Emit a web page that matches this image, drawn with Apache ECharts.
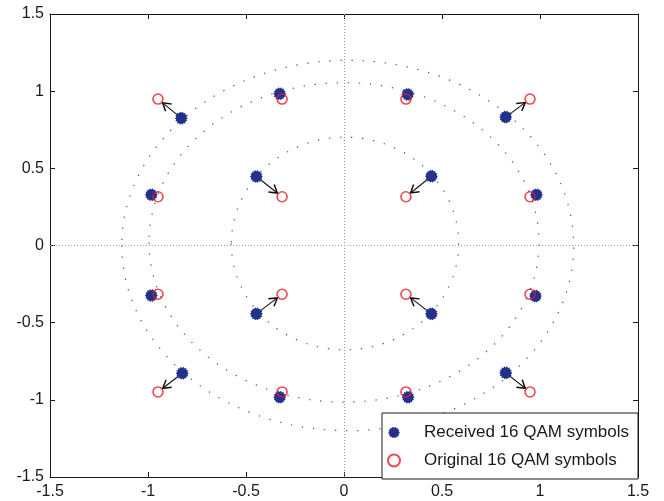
<!DOCTYPE html>
<html>
<head>
<meta charset="utf-8">
<script src="https://cdn.jsdelivr.net/npm/echarts@6/dist/echarts.min.js"></script>
<style>
html,body{margin:0;padding:0;background:#fff;}
#chart{width:664px;height:501px;}
</style>
</head>
<body>
<div id="chart"></div>
<script>
// ---- data ----
const seriesNames = ['Received 16 QAM symbols', 'Original 16 QAM symbols'];
const originalX = [-0.949, -0.316, 0.316, 0.949,  -0.949, -0.316, 0.316, 0.949,  -0.949, -0.316, 0.316, 0.949,  -0.949, -0.316, 0.316, 0.949];
const originalY = [0.949, 0.949, 0.949, 0.949,  0.316, 0.316, 0.316, 0.316,  -0.316, -0.316, -0.316, -0.316,  -0.949, -0.949, -0.949, -0.949];
const receivedX = [-0.830, -0.328, 0.325, 0.825,  -0.983, -0.447, 0.446, 0.982,  -0.983, -0.447, 0.446, 0.977,  -0.825, -0.328, 0.327, 0.825];
const receivedY = [0.825, 0.983, 0.979, 0.832,  0.329, 0.447, 0.449, 0.329,  -0.324, -0.443, -0.443, -0.328,  -0.828, -0.983, -0.983, -0.825];
const arrowIndex = [0, 3, 5, 6, 9, 10, 12, 15];
// dotted reference rings: centre x, centre y, radius x, radius y
const ringCX = [0.005, 0.0, 0.019];
const ringCY = [0.013, 0.02, 0.0];
const ringRX = [0.58, 0.995, 1.153];
const ringRY = [0.689, 1.035, 1.2];
const axisMin = -1.5, axisMax = 1.5, axisStep = 0.5;

// ---- build ----
const receivedData = receivedX.map((x, i) => [x, receivedY[i]]);
const originalData = originalX.map((x, i) => [x, originalY[i]]);
const arrowData = arrowIndex.map(i => [receivedX[i], receivedY[i], originalX[i], originalY[i]]);
const ringData = ringCX.map((c, i) => [c, ringCY[i], ringRX[i], ringRY[i]]);

function starPath(n, ro, ri) {
  let d = '';
  for (let k = 0; k < 2 * n; k++) {
    const r = k % 2 ? ri : ro;
    const a = Math.PI * k / n;
    const px = (10 + r * Math.cos(a)).toFixed(2), py = (10 + r * Math.sin(a)).toFixed(2);
    d += (k ? 'L' : 'M') + px + ' ' + py + ' ';
  }
  return 'path://' + d + 'Z';
}
const blobSymbol = starPath(14, 10, 8);
const FONT = 'Liberation Sans';

const chart = echarts.init(document.getElementById('chart'), null, {renderer: 'canvas'});
const commonAxis = {
  type: 'value', min: axisMin, max: axisMax, interval: axisStep,
  splitLine: {show: false},
  axisLine: {show: true, onZero: false, lineStyle: {color: '#1a1a1a', width: 1}},
  axisTick: {show: true, inside: true, length: 5, lineStyle: {color: '#1a1a1a'}}
};
chart.setOption({
  animation: false,
  backgroundColor: '#fff',
  grid: {left: 50, right: 26, top: 14, bottom: 24, containLabel: false},
  xAxis: [
    Object.assign({}, commonAxis, {position: 'bottom',
      axisLabel: {show: true, margin: 7, fontSize: 16, color: '#1a1a1a', fontFamily: FONT, showMinLabel: true, showMaxLabel: true}}),
    Object.assign({}, commonAxis, {position: 'top', axisLabel: {show: false}})
  ],
  yAxis: [
    Object.assign({}, commonAxis, {position: 'left',
      axisLabel: {show: true, margin: 6, fontSize: 16, color: '#1a1a1a', fontFamily: FONT, showMinLabel: true, showMaxLabel: true}}),
    Object.assign({}, commonAxis, {position: 'right', axisLabel: {show: false}})
  ],
  legend: {
    orient: 'vertical', left: 382, top: 413,
    padding: [11, 9, 10, 5], itemGap: 11, itemWidth: 12, itemHeight: 12,
    borderColor: '#1a1a1a', borderWidth: 1, backgroundColor: '#fff', borderRadius: 0,
    textStyle: {fontSize: 17, lineHeight: 17, color: '#1a1a1a', fontFamily: FONT, padding: [0, 0, 0, 19]},
    data: seriesNames
  },
  series: [
    {
      type: 'custom', name: 'rings', silent: true, z: 1,
      data: ringData,
      encode: {x: 0, y: 1},
      renderItem: function (params, api) {
        const c = api.coord([api.value(0), api.value(1)]);
        const s = api.size([api.value(2), api.value(3)]);
        const rx = s[0], ry = s[1];
        const d = 'M' + (c[0] - rx) + ' ' + c[1] +
          ' A' + rx + ' ' + ry + ' 0 1 0 ' + (c[0] + rx) + ' ' + c[1] +
          ' A' + rx + ' ' + ry + ' 0 1 0 ' + (c[0] - rx) + ' ' + c[1] + ' Z';
        return {type: 'path', shape: {pathData: d},
          style: {fill: 'none', stroke: '#2b2ba8', lineWidth: 1.2, lineDash: [1.3, 9.8], opacity: 0.85}};
      },
      markLine: {
        silent: true, symbol: 'none', label: {show: false},
        lineStyle: {color: '#9a9a9a', width: 1, type: [1, 2]},
        data: [{xAxis: 0}, {yAxis: 0}]
      }
    },
    {
      type: 'scatter', name: seriesNames[0], z: 3,
      data: receivedData,
      symbol: blobSymbol, symbolSize: 13,
      itemStyle: {color: '#24318c', opacity: 1}
    },
    {
      type: 'custom', name: 'arrows', silent: true, z: 2,
      data: arrowData,
      encode: {x: [0, 2], y: [1, 3]},
      renderItem: function (params, api) {
        const p1 = api.coord([api.value(0), api.value(1)]);
        const p2 = api.coord([api.value(2), api.value(3)]);
        const dx = p2[0] - p1[0], dy = p2[1] - p1[1];
        const L = Math.sqrt(dx * dx + dy * dy);
        const ux = dx / L, uy = dy / L;
        const tip = [p2[0] - ux * 6, p2[1] - uy * 6];
        const hl = 9, ang = 0.55;
        const ca = Math.cos(ang), sa = Math.sin(ang);
        const b1 = [tip[0] - hl * (ux * ca - uy * sa), tip[1] - hl * (uy * ca + ux * sa)];
        const b2 = [tip[0] - hl * (ux * ca + uy * sa), tip[1] - hl * (uy * ca - ux * sa)];
        return {type: 'group', children: [
          {type: 'line', shape: {x1: p1[0], y1: p1[1], x2: tip[0], y2: tip[1]},
            style: {stroke: '#111', lineWidth: 1.1}},
          {type: 'polyline', shape: {points: [b1, tip, b2]},
            style: {stroke: '#111', lineWidth: 1.5, fill: 'none'}}
        ]};
      }
    },
    {
      type: 'scatter', name: seriesNames[1], z: 4,
      data: originalData,
      symbol: 'circle', symbolSize: 10,
      itemStyle: {color: 'rgba(0,0,0,0)', borderColor: '#e41b23', borderWidth: 1.6}
    }
  ]
});
</script>
</body>
</html>
